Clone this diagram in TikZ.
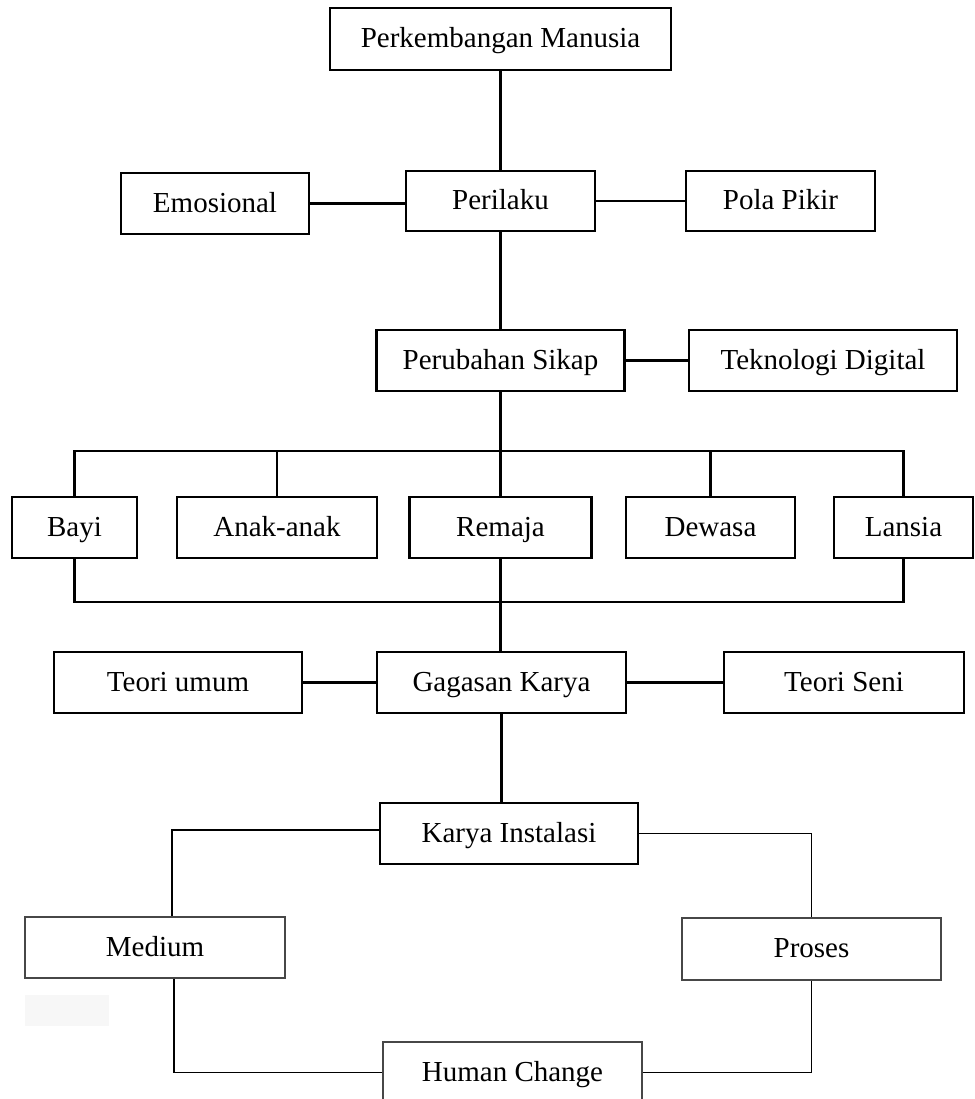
\documentclass[tikz,border=0pt]{standalone}
\usepackage{fontspec}
\setmainfont{Liberation Serif}
\tikzset{
    kotak/.style={draw, line width=1.3pt, minimum height=1.22cm, inner sep=0pt, text height=12pt, text depth=2pt, font=\fontsize{16.5}{20}\selectfont},
    kotaktipis/.style={kotak, draw=black!72, line width=0.9pt},
    garis/.style={line width=1.4pt},
    garistipis/.style={line width=0.8pt}
}
\begin{document}
\begin{tikzpicture}
        \useasboundingbox (0,0) rectangle (19.48,-21.98);
        % baris atas
        \node [kotak, minimum width=6.82cm, minimum height=1.24cm] (manusia) at (10.01,-0.78) {Perkembangan Manusia};
        \node [kotak, minimum width=3.76cm] (emosi) at (4.30,-4.07) {Emosional};
        \node [kotak, minimum width=3.78cm, minimum height=1.2cm] (perilaku) at (10.01,-4.02) {Perilaku};
        \node [kotak, minimum width=3.78cm, minimum height=1.2cm] (pola) at (15.61,-4.02) {Pola Pikir};
        \node [kotak, minimum width=4.96cm] (sikap) at (10.01,-7.21) {Perubahan Sikap};
        \node [kotak, minimum width=5.36cm] (tekno) at (16.46,-7.21) {Teknologi Digital};
        % usia
        \node [kotak, minimum width=2.5cm] (bayi) at (1.49,-10.55) {Bayi};
        \node [kotak, minimum width=4.0cm] (anak) at (5.54,-10.55) {Anak-anak};
        \node [kotak, minimum width=3.64cm] (remaja) at (10.01,-10.55) {Remaja};
        \node [kotak, minimum width=3.38cm] (dewasa) at (14.21,-10.55) {Dewasa};
        \node [kotak, minimum width=2.78cm] (lansia) at (18.07,-10.55) {Lansia};
        \coordinate (busatas) at (0,-9.02);
        \coordinate (busbawah) at (0,-12.04);
        % gagasan
        \node [kotak, minimum width=4.96cm] (umum) at (3.56,-13.65) {Teori umum};
        \node [kotak, minimum width=4.98cm] (gagasan) at (10.03,-13.65) {Gagasan Karya};
        \node [kotak, minimum width=4.8cm] (seni) at (16.88,-13.65) {Teori Seni};
        \node [kotak, minimum width=5.16cm] (instalasi) at (10.18,-16.67) {Karya Instalasi};
        \node [kotaktipis, minimum width=5.2cm] (medium) at (3.10,-18.95) {Medium};
        \node [kotaktipis, minimum width=5.18cm, minimum height=1.24cm] (proses) at (16.23,-18.98) {Proses};
        \node [kotaktipis, minimum width=5.18cm] (human) at (10.25,-21.45) {Human Change};
        \fill [black!3] (0.5,-19.9) rectangle (2.18,-20.52);

        \draw [garis] (manusia.south) -- (manusia.south |- perilaku.north);
        \draw [garis] (emosi.east) -- (emosi.east -| perilaku.west);
        \draw [garis] (perilaku.east) -- (pola.west);
        \draw [garis] (perilaku.south) -- (perilaku.south |- sikap.north);
        \draw [garis] (sikap.east) -- (tekno.west);
        \draw [garis] (sikap.south) -- (sikap.south |- busatas);
        \draw [garis] (bayi.north) |- (lansia.north |- busatas) -- (lansia.north);
        \foreach \n in {anak,remaja,dewasa}
            \draw [garis] (\n.north) -- (\n.north |- busatas);
        \draw [garis] (bayi.south) |- (lansia.south |- busbawah) -- (lansia.south);
        \draw [garis] (remaja.south) -- (remaja.south |- gagasan.north);
        \draw [garis] (umum.east) -- (gagasan.west);
        \draw [garis] (gagasan.east) -- (seni.west);
        \draw [garis] (gagasan.south) -- (gagasan.south |- instalasi.north);
        \draw [garistipis] ([yshift=0.07cm]instalasi.west) -| ([xshift=0.34cm]medium.north);
        \draw [garistipis] (instalasi.east) -| (proses.north);
        \draw [garistipis] ([xshift=0.38cm]medium.south) |- (human.west);
        \draw [garistipis] (proses.south) |- (human.east);
    \end{tikzpicture}
\end{document}
